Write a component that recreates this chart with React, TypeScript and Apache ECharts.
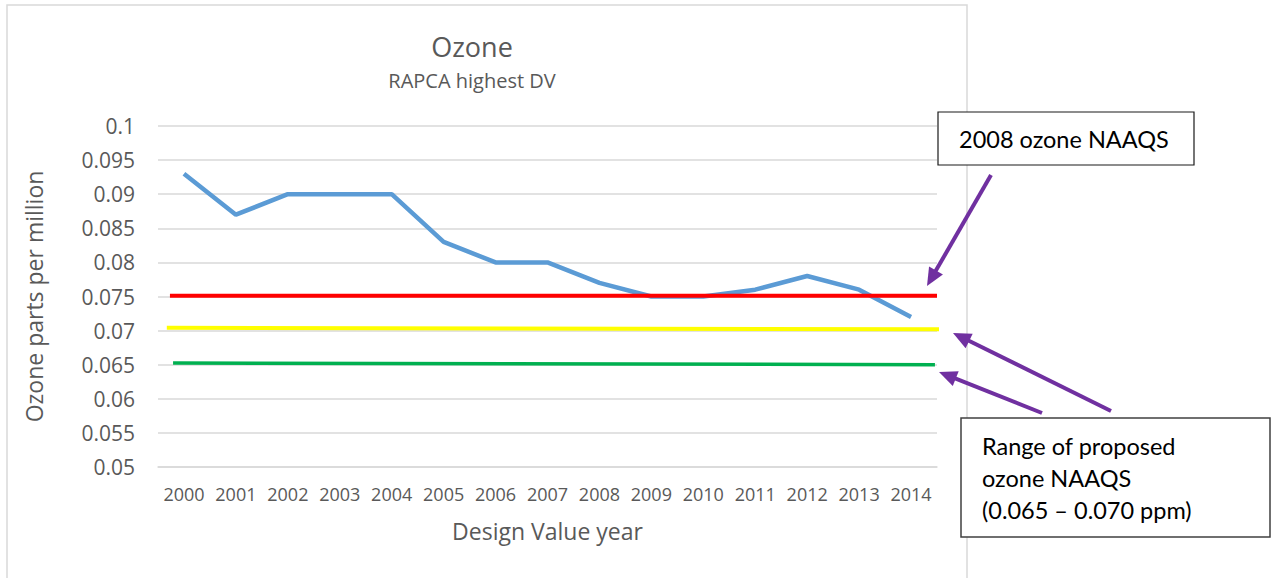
import React, { useEffect, useRef } from "react";
import * as echarts from "echarts";

const years = ["2000","2001","2002","2003","2004","2005","2006","2007","2008","2009","2010","2011","2012","2013","2014"];
const ozoneDV = [0.093, 0.087, 0.090, 0.090, 0.090, 0.083, 0.080, 0.080, 0.077, 0.075, 0.075, 0.076, 0.078, 0.076, 0.072];
// reference lines drawn on a hidden value x-axis spanning the category bands (-0.5 .. 14.5)
const naaqs2008 = [[-0.27, 0.0751], [14.5, 0.0751]];
const proposedHigh = [[-0.33, 0.0704], [15.17, 0.0702]];
const proposedLow = [[-0.21, 0.06525], [14.46, 0.0650]];

const FONT = "'Open Sans', sans-serif";
const NOTE_FONT = "Lato, 'Open Sans', sans-serif";
const PURPLE = "#7030a0";

function arrow(sx: number, sy: number, tx: number, ty: number) {
  const dx = tx - sx, dy = ty - sy;
  const len = Math.sqrt(dx * dx + dy * dy);
  const ux = dx / len, uy = dy / len;
  const nx = -uy, ny = ux;
  const L = 18, W = 8;
  const bx = tx - ux * L, by = ty - uy * L;
  return [
    { type: "line", shape: { x1: sx, y1: sy, x2: tx - ux * L * 0.7, y2: ty - uy * L * 0.7 }, style: { stroke: PURPLE, lineWidth: 4 }, z: 10 },
    { type: "polygon", shape: { points: [[tx, ty], [bx + nx * W, by + ny * W], [bx - nx * W, by - ny * W]] }, style: { fill: PURPLE }, z: 10 },
  ];
}

export default function App() {
  const ref = useRef<HTMLDivElement>(null);
  useEffect(() => {
    const chart = echarts.init(ref.current!, undefined, { renderer: "svg" });
    chart.setOption({
      animation: false,
      backgroundColor: "#ffffff",
      grid: { left: 158, right: 334, top: 126, bottom: 111 },
      xAxis: [
        {
          type: "category",
          data: years,
          boundaryGap: true,
          axisLine: { show: true, lineStyle: { color: "#d9d9d9", width: 1.5 } },
          axisTick: { show: false },
          axisLabel: { color: "#595959", fontSize: 18, fontFamily: FONT, margin: 18, interval: 0, hideOverlap: false },
          name: "Design Value year",
          nameLocation: "middle",
          nameGap: 52,
          nameTextStyle: { color: "#595959", fontSize: 23, fontFamily: FONT },
        },
        { type: "value", min: -0.5, max: 14.5, show: false },
      ],
      yAxis: {
        type: "value",
        min: 0.05,
        max: 0.1,
        interval: 0.005,
        axisLine: { show: false },
        axisTick: { show: false },
        splitLine: { lineStyle: { color: "#d9d9d9", width: 1.5 } },
        axisLabel: { color: "#595959", fontSize: 21, fontFamily: FONT, margin: 23 },
        name: "Ozone parts per million",
        nameLocation: "middle",
        nameGap: 113,
        nameTextStyle: { color: "#595959", fontSize: 23, fontFamily: FONT },
      },
      series: [
        {
          type: "line", name: "NAAQS 2008", xAxisIndex: 1, data: naaqs2008, showSymbol: false, clip: false,
          lineStyle: { color: "#ff0000", width: 4 }, z: 3,
        },
        {
          type: "line", name: "Proposed high", xAxisIndex: 1, data: proposedHigh, showSymbol: false, clip: false,
          lineStyle: { color: "#ffff00", width: 4 }, z: 3,
        },
        {
          type: "line", name: "Proposed low", xAxisIndex: 1, data: proposedLow, showSymbol: false, clip: false,
          lineStyle: { color: "#00b050", width: 3.5 }, z: 3,
        },
        {
          type: "line", name: "Ozone", data: ozoneDV, showSymbol: false,
          lineStyle: { color: "#5b9bd5", width: 4.5 }, z: 2,
        },
      ],
      graphic: [
        { type: "rect", shape: { x: 7, y: 5, width: 960, height: 620 }, style: { fill: "none", stroke: "#d9d9d9", lineWidth: 1.5 }, z: -1 },
        { type: "text", x: 472, y: 46, style: { text: "Ozone", fill: "#595959", font: `27px ${FONT}`, textAlign: "center", textVerticalAlign: "middle" } },
        { type: "text", x: 472, y: 80, style: { text: "RAPCA highest DV", fill: "#595959", font: `20px ${FONT}`, textAlign: "center", textVerticalAlign: "middle" } },
        { type: "rect", shape: { x: 938, y: 112, width: 256, height: 53 }, style: { fill: "#ffffff", stroke: "#1a1a1a", lineWidth: 1.2 }, z: 11 },
        { type: "text", x: 959, y: 139, style: { text: "2008 ozone NAAQS", fill: "#000000", font: `23.5px ${NOTE_FONT}`, textVerticalAlign: "middle" }, z: 12 },
        { type: "rect", shape: { x: 961, y: 418, width: 309, height: 119 }, style: { fill: "#ffffff", stroke: "#404040", lineWidth: 1.5 }, z: 11 },
        { type: "text", x: 982, y: 446, style: { text: "Range of proposed", fill: "#000000", font: `23.5px ${NOTE_FONT}`, textVerticalAlign: "middle" }, z: 12 },
        { type: "text", x: 982, y: 478, style: { text: "ozone NAAQS", fill: "#000000", font: `23.5px ${NOTE_FONT}`, textVerticalAlign: "middle" }, z: 12 },
        { type: "text", x: 982, y: 510, style: { text: "(0.065 \u2013 0.070 ppm)", fill: "#000000", font: `23.5px ${NOTE_FONT}`, textVerticalAlign: "middle" }, z: 12 },
        ...arrow(991, 175, 927, 286),
        ...arrow(1111, 411, 953, 333),
        ...arrow(1042, 413, 939, 372),
      ],
    });
    return () => chart.dispose();
  }, []);
  return <div ref={ref} style={{ position: "fixed", left: 0, top: 0, width: 1271, height: 578 }} />;
}
